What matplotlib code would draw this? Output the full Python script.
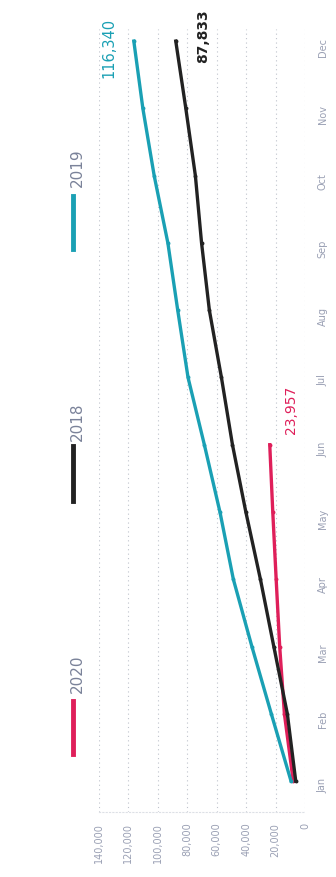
import matplotlib.pyplot as plt
from matplotlib.lines import Line2D

plt.rcParams["font.family"] = "DejaVu Sans"

months = ["Jan", "Feb", "Mar", "Apr", "May", "Jun",
          "Jul", "Aug", "Sep", "Oct", "Nov", "Dec"]

# cumulative totals per month
totals_2018 = [6300, 12000, 21200, 30300, 40200, 49300,
               56800, 65000, 70300, 74500, 81000, 87833]
totals_2019 = [9500, 22900, 36100, 48700, 57800, 68400,
               79500, 86500, 93200, 102500, 110200, 116340]
totals_2020 = [8000, 14000, 17200, 19600, 21900, 23957]

value_ticks = [0, 20000, 40000, 60000, 80000, 100000, 120000, 140000]

c2018 = "#222222"
c2019 = "#1aa0b4"
c2020 = "#df1f5a"
label_grey = "#7a8299"
tick_grey = "#9aa0b4"

fig = plt.figure(figsize=(3.36, 8.78), dpi=100)
# chart is laid out sideways: values run right-to-left, months bottom-to-top
ax = fig.add_axes([99 / 336, 65 / 878, 206 / 336, 783 / 878])

idx = list(range(len(months)))
ax.plot(totals_2018, idx, color=c2018, lw=2.4, marker="o", ms=1.8, zorder=3)
ax.plot(totals_2019, idx, color=c2019, lw=2.4, marker="o", ms=1.8, zorder=4)
ax.plot(totals_2020, idx[:len(totals_2020)], color=c2020, lw=2.4,
        marker="o", ms=1.8, zorder=2)

ax.set_xlim(140000, 0)
ax.set_ylim(-0.46, 11.18)

ax.set_xticks(value_ticks)
ax.set_xticklabels(["0" if v == 0 else f"{v:,}" for v in value_ticks])
ax.set_yticks(idx)
ax.set_yticklabels(months)
ax.yaxis.tick_right()
ax.tick_params(axis="x", length=0, labelrotation=90, pad=7,
               labelsize=7, labelcolor=tick_grey)
ax.tick_params(axis="y", length=0, labelrotation=90, pad=9,
               labelsize=7, labelcolor=tick_grey)

ax.grid(axis="x", linestyle=(0, (1, 3)), color="#bfc3cc", lw=0.8)
for s in ["top", "right", "left"]:
    ax.spines[s].set_visible(False)
ax.spines["bottom"].set_color("#dde0e6")
ax.spines["bottom"].set_linestyle((0, (1, 2)))

# end-of-series value labels
ax.annotate(f"{totals_2019[-1]:,}", (totals_2019[-1], 11), xytext=(-18, -4),
            textcoords="offset points", rotation=90, ha="center", va="center",
            fontsize=10.5, color=c2019)
ax.annotate(f"{totals_2018[-1]:,}", (totals_2018[-1], 11), xytext=(20, 4),
            textcoords="offset points", rotation=90, ha="center", va="center",
            fontsize=10, color=c2018, fontweight="bold")
ax.annotate(f"{totals_2020[-1]:,}", (totals_2020[-1], len(totals_2020) - 1),
            xytext=(15, 26), textcoords="offset points", rotation=90,
            ha="center", va="center", fontsize=10, color=c2020)

# legend drawn sideways down the left edge
legend_items = [("2020", c2020, 674, 702, 755),
                ("2018", c2018, 422, 447, 502),
                ("2019", c2019, 168, 197, 250)]
for name, col, ytxt, y0, y1 in legend_items:
    fig.add_artist(Line2D([73 / 336, 73 / 336], [1 - y0 / 878, 1 - y1 / 878],
                          transform=fig.transFigure, color=col, lw=3.5))
    fig.text(77 / 336, 1 - ytxt / 878, name, rotation=90, ha="center",
             va="center", fontsize=11, color=label_grey)

fig.savefig("out.png", dpi=100)
